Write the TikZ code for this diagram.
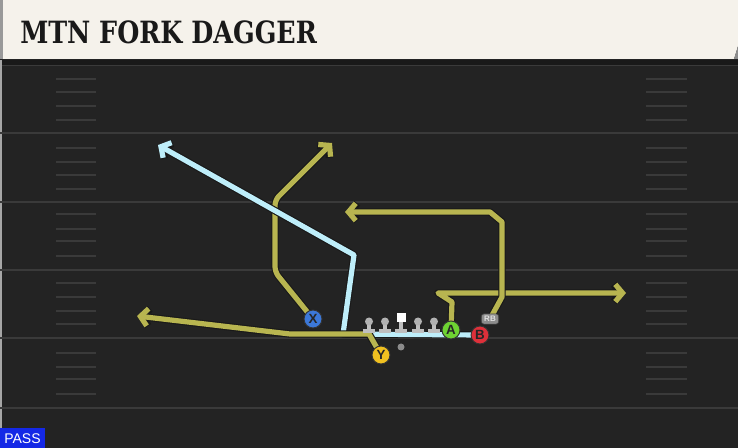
\documentclass[tikz,border=0pt]{standalone}
\usepackage{fontspec}
\setmainfont{Liberation Sans}
\newfontfamily\titlefont{DejaVu Serif Condensed}
\usetikzlibrary{arrows.meta}

\definecolor{field}{RGB}{35,35,35}
\definecolor{yardline}{RGB}{58,58,58}
\definecolor{cream}{RGB}{245,242,235}
\definecolor{olive}{RGB}{184,181,80}
\definecolor{skyblue}{RGB}{190,238,250}
\definecolor{xblue}{RGB}{60,120,216}
\definecolor{ygold}{RGB}{240,192,32}
\definecolor{agreen}{RGB}{110,210,50}
\definecolor{bred}{RGB}{222,48,58}
\definecolor{passblue}{RGB}{20,40,230}

\pgfdeclarelayer{bg}
\pgfdeclarelayer{mid}
\pgfsetlayers{bg,mid,main}

\tikzset{
  yard/.style={yardline, line width=1.5pt},
  hashmark/.style={yardline, line width=1.1pt},
  route/.style={line width=3.9pt, line join=round,
    preaction={draw=black!90, line width=5.6pt, line join=round}},
  tip/.style={-{Straight Barb[length=5.5pt,width=13pt,line join=miter]}},
  player/.style={circle, draw=black!80, line width=0.7pt, minimum size=13.5pt,
    inner sep=0pt, font=\bfseries\fontsize{10}{10}\selectfont, text=black!85},
  tag/.style={rounded corners=2pt, fill=black!45, draw=black!75, line width=0.5pt,
    inner xsep=2.2pt, inner ysep=1.8pt, font=\bfseries\fontsize{6}{6}\selectfont, text=black!12},
  lineman/.style={fill=black!25},
}

\begin{document}
\begin{tikzpicture}[x=0.75pt, y=-0.75pt]
\useasboundingbox (0,0) rectangle (738,448);
\begin{pgfonlayer}{bg}
\fill[field] (0,0) rectangle (738,448);
\fill[black!90] (0,60) rectangle (738,65);
\draw[yardline, line width=1pt] (0,65.5) -- (738,65.5);
\fill[black!35] (0,60) rectangle (1.5,448);
% yard lines and hashes
\foreach \yy in {133,202,270,338,408}
  \draw[yard] (0,\yy) -- (738,\yy);
\foreach \yy in {79,92,106,120,148,162,175,189,214,229,241,256,283,297,311,324,353,367,379,394}{
  \draw[hashmark] (56,\yy) -- (96,\yy);
  \draw[hashmark] (646,\yy) -- (687,\yy);
}
\end{pgfonlayer}

% title bar
\fill[black!40] (0,0) rectangle (4,59);
\fill[cream] (3,0) -- (738,0) -- (738,46) -- (734,59) -- (3,59) -- cycle;
\fill[black!45] (738,46) -- (734,59) -- (738,59) -- cycle;
\node[anchor=west, inner sep=0pt, text=black!90] (title) at (20,32.5)
  {\scalebox{0.92}[1]{\titlefont\bfseries\fontsize{23}{23}\selectfont MTN FORK DAGGER}};

% players
\node[player, fill=xblue] (X) at (313,319) {X};
\node[player, fill=ygold] (Y) at (381,355) {Y};
\node[player, fill=agreen] (A) at (451,330) {A};
\node[player, fill=bred] (B) at (480,335) {B};
\node[tag] (RB) at (490,319) {RB};
\fill[black!45] (401,347) circle (3.5);

% route points
\coordinate (x1) at (275,272);
\coordinate (x2) at (275,200);
\coordinate (x3) at (332,143);
\coordinate (b1) at (343,334);
\coordinate (b2) at (354,255);
\coordinate (b3) at (158,145);
\coordinate (y1) at (369,334);
\coordinate (y2) at (290,334);
\coordinate (y3) at (137,316);
\coordinate (a1) at (452,302);
\coordinate (a2) at (438,293);
\coordinate (a3) at (626,293);
\coordinate (r1) at (502,297);
\coordinate (r2) at (502,222);
\coordinate (r3) at (490,212);
\coordinate (r4) at (345,212);

\begin{pgfonlayer}{mid}
\draw[route, olive, tip, rounded corners=4pt] (X.center) -- (x1) -- (x2) -- (x3);
\draw[route, skyblue, tip] (B.center) -- (b1) -- (b2) -- (b3);
\draw[route, olive, tip] (Y.center) -- (y1) -- (y2) -- (y3);
\draw[route, olive, tip] (A.center) -- (a1) -- (a2) -- (a3);
\draw[route, olive, tip] (RB.center) -- (r1) -- (r2) -- (r3) -- (r4);
\end{pgfonlayer}

% offensive line
\foreach \lx in {369,385,418,434}{
  \fill[lineman] (\lx-2,323) rectangle (\lx+2,330);
  \fill[lineman] (\lx-6,329) rectangle (\lx+6,333.5);
  \fill[black!30] (\lx,321.5) circle (4);
}
\fill[lineman] (399,322) rectangle (403,330);
\fill[lineman] (395,329) rectangle (407,333.5);
\fill[white] (396.5,313) rectangle (405.5,322);

% play type
\fill[passblue] (0,428) rectangle (45,448);
\node[text=white, font=\fontsize{10.5}{11}\selectfont] (pass) at (22.5,438.5) {PASS};
\end{tikzpicture}
\end{document}
